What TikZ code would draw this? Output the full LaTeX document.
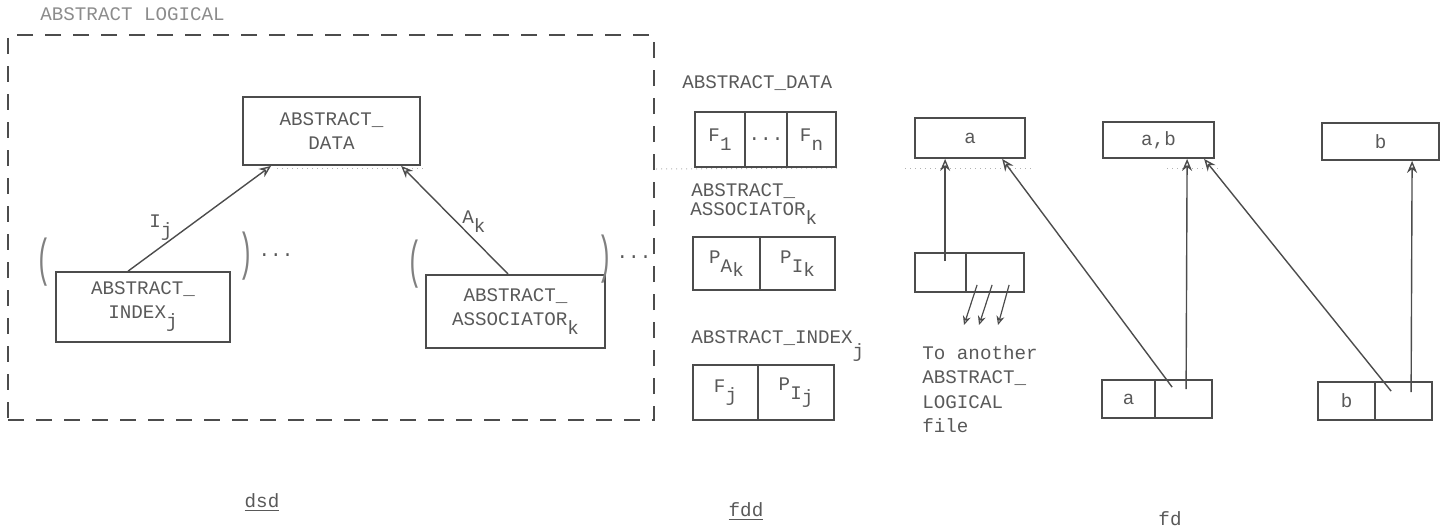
\documentclass[tikz,border=0pt]{standalone}
\usepackage{fontspec}
\setmainfont{Liberation Mono}
\usetikzlibrary{arrows.meta}
\definecolor{ln}{gray}{0.3}
\definecolor{txt}{gray}{0.35}
\newcommand\lo[1]{\raisebox{-4.5pt}{#1}}
\newcommand\llo[1]{\raisebox{-7pt}{#1}}
\newcommand\tallglyph[1]{\scalebox{1.3}[2.7]{#1}}
\tikzset{
  box/.style={draw=ln, line width=0.9pt, inner sep=0pt, align=center},
  arr/.style={draw=ln, line width=0.7pt, -{Stealth[open,length=6pt,width=5pt]}},
  sarr/.style={draw=ln, line width=0.6pt, -{Stealth[open,length=4.5pt,width=4pt]}},
  lbl/.style={inner sep=0pt, anchor=base west},
  paren/.style={inner sep=0pt, text=black!50},
  artifact/.style={draw=black!30, dotted, line width=0.5pt},
}
\begin{document}
\begin{tikzpicture}[x=0.5pt, y=-0.5pt, text=txt, font=\fontsize{9.6pt}{12pt}\selectfont]
\path[use as bounding box] (0,0) rectangle (1444,530);

% scan artifacts (faint dotted line)
\draw[artifact] (277,168) -- (425,168);
\draw[artifact] (656,169) -- (837,168);
\draw[artifact] (905,168) -- (1033,168);
\draw[artifact] (1167,168) -- (1219,168);

% ---------- dsd ----------
\node[lbl, text=black!45] (title) at (40,20.5) {ABSTRACT LOGICAL};
\node[draw=ln, line width=0.9pt, dash pattern=on 8pt off 6pt, inner sep=0pt,
      minimum width=323pt, minimum height=192.5pt] (frame) at (331,227.5) {};

\node[box, minimum width=88.5pt, minimum height=34pt] (dat) at (331.5,131) {ABSTRACT\_\\DATA};
\node[box, minimum width=87pt, minimum height=35pt] (idx) at (143,307) {ABSTRACT\_\\INDEX\lo{j}};
\node[box, minimum width=89.5pt, minimum height=36.5pt] (asc) at (515.5,311.5) {ABSTRACT\_\\ASSOCIATOR\lo{k}};

\draw[arr] ([xshift=36.5pt]idx.north west) -- node[pos=0.23, above=3pt, inner sep=0pt] (lij) {I\lo{j}} ([xshift=14.5pt]dat.south west);
\draw[arr] ([xshift=41.5pt]asc.north west) -- node[pos=0.32, above=3pt, inner sep=0pt] (lak) {A\lo{k}} ([xshift=79.5pt]dat.south west);

\node[paren] (p1) at (44,262) {\tallglyph{(}};
\node[paren] (p2) at (246,256) {\tallglyph{)}};
\node[inner sep=0pt] (d1) at (276,255) {...};
\node[paren] (p3) at (415,264) {\tallglyph{(}};
\node[paren] (p4) at (605,259) {\tallglyph{)}};
\node[inner sep=0pt] (d2) at (634,257) {...};

% ---------- fdd ----------
\node[lbl] (hd1) at (682,88.5) {ABSTRACT\_DATA};
\node[box, minimum width=25pt, minimum height=27.5pt] (f1) at (720,139.5) {F\lo{1}};
\node[box, minimum width=21pt, minimum height=27.5pt] (f2) at (766,139.5) {...};
\node[box, minimum width=24.5pt, minimum height=27.5pt] (f3) at (811.5,139.5) {F\lo{n}};

\node[lbl] (hd2) at (691,196.5) {ABSTRACT\_};
\node[lbl] (hd3) at (690,215) {ASSOCIATOR\lo{k}};
\node[box, minimum width=33.5pt, minimum height=26.5pt] (pa) at (726.5,263.5) {P\lo{A\raisebox{-2pt}{k}}};
\node[box, minimum width=37.5pt, minimum height=26.5pt] (pb) at (797.5,263.5) {P\lo{I\raisebox{-2pt}{k}}};

\node[lbl] (hd4) at (691,343.5) {ABSTRACT\_INDEX\llo{j}};
\node[box, minimum width=32.5pt, minimum height=27.5pt] (fa) at (725.5,392.5) {F\lo{j}};
\node[box, minimum width=38pt, minimum height=27.5pt] (fb) at (796,392.5) {P\lo{I\raisebox{-2pt}{j}}};

% ---------- fd ----------
\node[box, minimum width=55pt, minimum height=20pt] (ta) at (970,138) {a};
\node[box, minimum width=55.5pt, minimum height=18pt] (tab) at (1158.5,140) {a,b};
\node[box, minimum width=58.5pt, minimum height=18.5pt] (tb) at (1380.5,141.5) {b};

\node[box, minimum width=25.5pt, minimum height=19.5pt] (sc1) at (940.5,272.5) {};
\node[box, minimum width=29pt, minimum height=19.5pt] (sc2) at (995,272.5) {};

\node[box, minimum width=26.5pt, minimum height=19pt] (ba1) at (1128.5,399) {a};
\node[box, minimum width=28.5pt, minimum height=19pt] (ba2) at (1183.5,399) {};
\node[box, minimum width=28.5pt, minimum height=19pt] (bb1) at (1346.5,401) {b};
\node[box, minimum width=28.5pt, minimum height=19pt] (bb2) at (1403.5,401) {};

\coordinate (t1) at (964,325);
\coordinate (t2) at (979,325);
\coordinate (t3) at (998,325);

\draw[arr] ([xshift=15.5pt,yshift=-4.5pt]sc1.north west) -- ([xshift=15.5pt]ta.south west);
\draw[sarr] ([xshift=6pt,yshift=4pt]sc2.south west) -- (t1);
\draw[sarr] ([xshift=13.5pt,yshift=4pt]sc2.south west) -- (t2);
\draw[sarr] ([xshift=22pt,yshift=4pt]sc2.south west) -- (t3);

\draw[arr] ([xshift=9pt,yshift=-4pt]ba2.north west) -- ([xshift=44pt]ta.south west);
\draw[arr] ([xshift=16pt,yshift=-5pt]ba2.north west) -- ([xshift=42.5pt]tab.south west);
\draw[arr] ([xshift=8.5pt,yshift=-5pt]bb2.north west) -- ([xshift=51pt]tab.south west);
\draw[arr] ([xshift=18.5pt,yshift=-5.5pt]bb2.north west) -- ([xshift=45.5pt]tb.south west);

\node[align=left, anchor=north west, inner sep=0pt,
      font=\fontsize{9.6pt}{12.2pt}\selectfont] (note) at (922,345) {To another\\ABSTRACT\_\\LOGICAL\\file};

% ---------- captions ----------
\node (dsd) at (262,503) {\underline{dsd}};
\node (fdd) at (746,512) {\underline{fdd}};
\node (fd) at (1170,519) {fd};
\end{tikzpicture}
\end{document}
